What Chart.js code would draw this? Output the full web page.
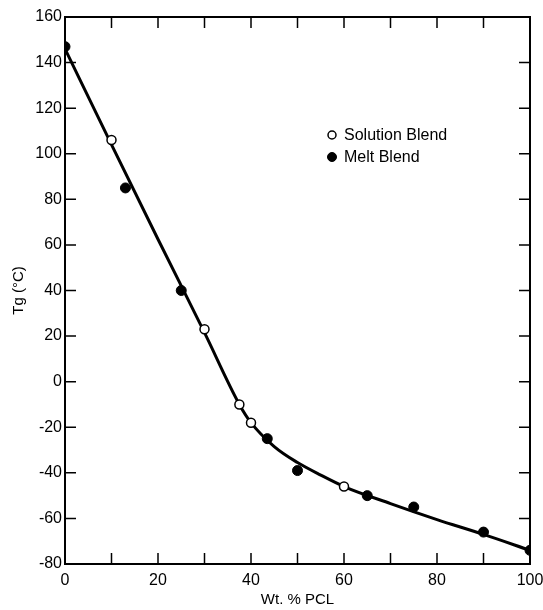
<!DOCTYPE html>
<html>
<head>
<meta charset="utf-8">
<script src="https://cdn.jsdelivr.net/npm/chart.js@4.4.1/dist/chart.umd.min.js"></script>
<style>
  html, body { margin: 0; padding: 0; background: #fff; }
  #wrap { width: 543px; height: 610px; }
</style>
</head>
<body>
<div id="wrap"><canvas id="c" width="543" height="610"></canvas></div>
<script>
// ---- data ----
const solutionX = [10, 30, 37.5, 40, 60];
const solutionY = [106, 23, -10, -18, -46];
const meltX = [0, 13, 25, 43.5, 50, 65, 75, 90, 100];
const meltY = [147, 85, 40, -25, -39, -50, -55, -66, -74];
const curveX = [0, 10, 20, 30, 37.5, 40, 45, 50, 55, 60, 70, 80, 90, 100];
const curveY = [146, 104, 62.5, 21.5, -10, -18, -28.5, -35.5, -41, -46, -53.5, -60.5, -67, -74];
const seriesLabels = ['Solution Blend', 'Melt Blend'];
const xTickLabelValues = [0, 20, 40, 60, 80, 100];
const xTitle = 'Wt. % PCL';
const yTitle = 'Tg (\u00B0C)';

const FONT = "'Liberation Sans', Arial, sans-serif";
const toPts = (xs, ys) => xs.map((x, i) => ({ x: x, y: ys[i] }));

// inward ticks + frame
const framePlugin = {
  id: 'frame',
  beforeDatasetsDraw(chart) {
    const { ctx, chartArea: a } = chart;
    const xs = chart.scales.x, ys = chart.scales.y;
    const L = 11;
    ctx.save();
    ctx.strokeStyle = '#000';
    ctx.lineWidth = 1.5;
    ctx.beginPath();
    xs.ticks.forEach(t => {
      const p = xs.getPixelForValue(t.value);
      if (t.value <= xs.min || t.value >= xs.max) return;
      ctx.moveTo(p, a.bottom); ctx.lineTo(p, a.bottom - L);
      ctx.moveTo(p, a.top); ctx.lineTo(p, a.top + L);
    });
    ys.ticks.forEach(t => {
      const p = ys.getPixelForValue(t.value);
      if (t.value <= ys.min || t.value >= ys.max) return;
      ctx.moveTo(a.left, p); ctx.lineTo(a.left + L, p);
      ctx.moveTo(a.right, p); ctx.lineTo(a.right - L, p);
    });
    ctx.stroke();
    ctx.lineWidth = 2;
    ctx.strokeRect(a.left, a.top, a.right - a.left, a.bottom - a.top);
    ctx.restore();
  }
};

// legend placed inside plot area
const legendPlugin = {
  id: 'innerLegend',
  afterDatasetsDraw(chart) {
    const { ctx } = chart;
    const items = [chart.data.datasets[1], chart.data.datasets[2]];
    const x0 = 332, y0 = 135, dy = 22;
    ctx.save();
    ctx.font = '16px ' + FONT;
    ctx.textBaseline = 'middle';
    ctx.fillStyle = '#000';
    items.forEach((ds, i) => {
      const y = y0 + i * dy;
      ctx.beginPath();
      ctx.arc(x0, y, ds.pointRadius - 0.5, 0, Math.PI * 2);
      ctx.fillStyle = ds.backgroundColor;
      ctx.fill();
      ctx.lineWidth = ds.borderWidth;
      ctx.strokeStyle = ds.borderColor;
      ctx.stroke();
      ctx.fillStyle = '#000';
      ctx.fillText(ds.label, x0 + 12, y + 1);
    });
    ctx.restore();
  }
};

new Chart(document.getElementById('c'), {
  type: 'scatter',
  data: {
    datasets: [
      {
        type: 'line',
        label: 'fit',
        data: toPts(curveX, curveY),
        borderColor: '#000',
        borderWidth: 3,
        pointRadius: 0,
        fill: false,
        cubicInterpolationMode: 'monotone',
        order: 3
      },
      {
        label: seriesLabels[0],
        data: toPts(solutionX, solutionY),
        pointStyle: 'circle',
        pointRadius: 4.5,
        backgroundColor: '#fff',
        borderColor: '#000',
        borderWidth: 1.5,
        order: 1
      },
      {
        label: seriesLabels[1],
        data: toPts(meltX, meltY),
        pointStyle: 'circle',
        pointRadius: 5,
        backgroundColor: '#000',
        borderColor: '#000',
        borderWidth: 1,
        order: 2
      }
    ]
  },
  options: {
    responsive: false,
    animation: false,
    layout: { padding: { left: 0, right: 13, top: 17, bottom: 0 } },
    plugins: {
      legend: { display: false },
      tooltip: { enabled: false }
    },
    scales: {
      x: {
        type: 'linear',
        min: 0, max: 100,
        grid: { display: true, drawOnChartArea: false, drawTicks: false },
        border: { display: false },
        ticks: {
          stepSize: 10,
          autoSkip: false,
          maxRotation: 0,
          padding: 7,
          color: '#000',
          font: { family: FONT, size: 16 },
          callback: v => xTickLabelValues.includes(v) ? String(v) : ''
        },
        title: {
          display: true,
          text: xTitle,
          color: '#000',
          font: { family: FONT, size: 15 },
          padding: { top: 0, bottom: 1 }
        },
        afterFit: s => { s.height = 46; s.paddingLeft = 0; s.paddingRight = 0; }
      },
      y: {
        type: 'linear',
        min: -80, max: 160,
        grid: { display: true, drawOnChartArea: false, drawTicks: false },
        border: { display: false },
        ticks: {
          stepSize: 20,
          autoSkip: false,
          padding: 3,
          color: '#000',
          font: { family: FONT, size: 16 }
        },
        title: {
          display: true,
          text: yTitle,
          color: '#000',
          font: { family: FONT, size: 15 },
          padding: { top: 10, bottom: 0 }
        },
        afterFit: s => { s.width = 65; s.paddingTop = 0; s.paddingBottom = 0; }
      }
    }
  },
  plugins: [framePlugin, legendPlugin]
});
</script>
</body>
</html>
